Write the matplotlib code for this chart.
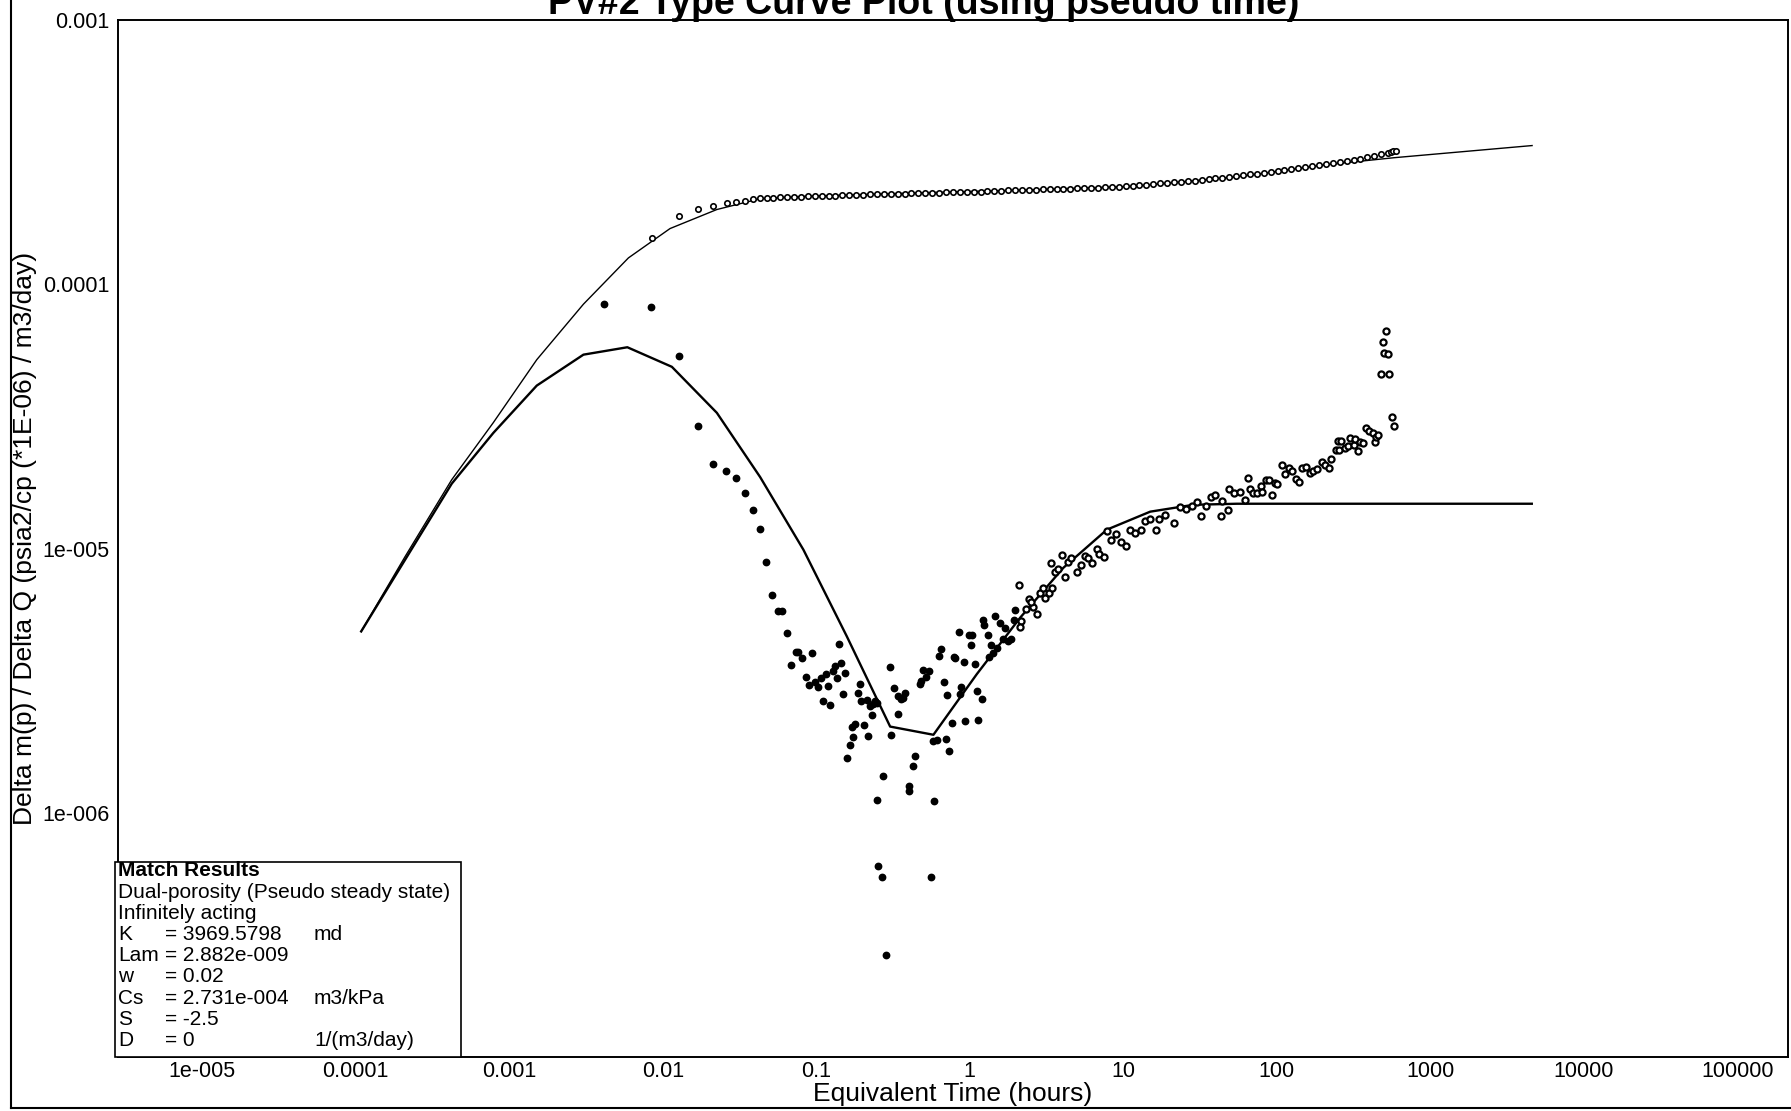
import matplotlib
matplotlib.use("Agg")
import matplotlib.pyplot as plt
from matplotlib.lines import Line2D
from matplotlib.patches import Rectangle
from matplotlib.ticker import NullLocator
import numpy as np

plt.rcParams["font.family"] = ["Liberation Sans", "DejaVu Sans"]

# values, stored as log10(hours) / log10(dm(p)/dQ)
upper_logt = [-3.965, -3.679, -3.375, -3.104, -2.821, -2.517, -2.224, -1.953, -1.648,
              -1.366, -1.084, -0.345, 0.360, 1.068, 1.774, 2.282, 2.763, 3.663]
upper_logy = [-5.313, -5.030, -4.739, -4.523, -4.285, -4.075, -3.900, -3.789, -3.717,
              -3.676, -3.667, -3.654, -3.643, -3.629, -3.591, -3.550, -3.521, -3.475]

lower_logt = [-3.965, -3.679, -3.375, -3.104, -2.821, -2.517, -2.231, -1.941, -1.648,
              -1.366, -1.084, -0.801, -0.519, -0.237, 0.045, 0.328, 0.610, 0.893,
              1.175, 1.457, 1.739, 3.661]
lower_logy = [-5.313, -5.042, -4.754, -4.562, -4.383, -4.266, -4.238, -4.312, -4.486,
              -4.729, -5.004, -5.332, -5.673, -5.704, -5.475, -5.261, -5.072, -4.928,
              -4.860, -4.834, -4.830, -4.830]

press_logt = [-2.072, -1.894, -1.768, -1.670, -1.583, -1.522, -1.464, -1.410, -1.366, -1.322,
              -1.280, -1.235, -1.190, -1.145, -1.100, -1.055, -1.010, -0.965, -0.920, -0.875,
              -0.830, -0.785, -0.740, -0.695, -0.650, -0.605, -0.560, -0.515, -0.470, -0.425,
              -0.380, -0.335, -0.290, -0.245, -0.200, -0.155, -0.110, -0.065, -0.020, 0.025,
              0.070, 0.115, 0.160, 0.205, 0.250, 0.295, 0.340, 0.385, 0.430, 0.475,
              0.520, 0.565, 0.610, 0.655, 0.700, 0.745, 0.790, 0.835, 0.880, 0.925,
              0.970, 1.015, 1.060, 1.105, 1.150, 1.195, 1.240, 1.285, 1.330, 1.375,
              1.420, 1.465, 1.510, 1.555, 1.600, 1.645, 1.690, 1.735, 1.780, 1.825,
              1.870, 1.915, 1.960, 2.005, 2.050, 2.095, 2.140, 2.185, 2.230, 2.275,
              2.320, 2.365, 2.410, 2.455, 2.500, 2.545, 2.590, 2.635, 2.680, 2.725,
              2.745, 2.760, 2.776]
press_logy = [-3.824, -3.740, -3.714, -3.702, -3.692, -3.688, -3.686, -3.679, -3.675, -3.673,
              -3.672, -3.671, -3.670, -3.669, -3.668, -3.667, -3.666, -3.665, -3.665, -3.664,
              -3.663, -3.662, -3.662, -3.661, -3.660, -3.660, -3.659, -3.658, -3.658, -3.657,
              -3.656, -3.655, -3.655, -3.654, -3.653, -3.652, -3.652, -3.651, -3.650, -3.650,
              -3.649, -3.648, -3.647, -3.646, -3.645, -3.645, -3.644, -3.643, -3.642, -3.641,
              -3.641, -3.640, -3.639, -3.638, -3.637, -3.636, -3.635, -3.634, -3.633, -3.632,
              -3.631, -3.629, -3.627, -3.625, -3.623, -3.621, -3.618, -3.616, -3.614, -3.612,
              -3.610, -3.608, -3.605, -3.602, -3.599, -3.596, -3.593, -3.590, -3.587, -3.584,
              -3.581, -3.578, -3.575, -3.572, -3.568, -3.564, -3.561, -3.557, -3.554, -3.550,
              -3.546, -3.542, -3.538, -3.534, -3.530, -3.525, -3.519, -3.514, -3.508, -3.502,
              -3.499, -3.497, -3.494]

deriv_logt = [-2.380, -2.074, -1.896, -1.770, -1.674, -1.590, -1.522, -1.467, -1.412, -1.369,
              -1.327, -1.288, -1.247, -1.225, -1.193, -1.162, -1.134, -1.117, -1.091, -1.066,
              -1.049, -1.027, -1.008, -0.990, -0.969, -0.956, -0.936, -0.921, -0.908, -0.893,
              -0.876, -0.865, -0.850, -0.838, -0.825, -0.812, -0.801, -0.780, -0.767, -0.758,
              -0.749, -0.728, -0.717, -0.706, -0.689, -0.671, -0.663, -0.650, -0.636, -0.632,
              -0.617, -0.606, -0.604, -0.595, -0.571, -0.563, -0.549, -0.521, -0.513, -0.491,
              -0.465, -0.450, -0.433, -0.420, -0.465, -0.354, -0.367, -0.393, -0.397, -0.231,
              -0.252, -0.241, -0.211, -0.154, -0.137, -0.319, -0.324, -0.306, -0.267, -0.285,
              -0.198, -0.187, -0.167, -0.146,
              -0.115, -0.029, 0.054, -0.065, -0.055, -0.096, -0.100, -0.035, 0.033, 0.046,
              0.078, -0.072, -0.003, 0.013, 0.008, 0.089, 0.093, 0.117, 0.139, 0.128,
              0.154, 0.176, 0.167, 0.199, 0.230, 0.215, 0.251, 0.267, 0.287, 0.297,
              0.321, 0.334, 0.328, 0.367, 0.388, 0.410, 0.438, 0.401, 0.458, 0.479,
              0.491, 0.519, 0.534, 0.530, 0.556, 0.577, 0.599, 0.621, 0.642, 0.658,
              0.701, 0.725, 0.751, 0.769, 0.795, 0.827, 0.844, 0.875, 0.893, 0.919,
              0.953, 0.984, 1.018, 1.044, 1.077, 1.114, 1.142, 1.175, 1.214, 1.235,
              1.272, 1.331, 1.370, 1.409, 1.446, 1.479,
              1.506, 1.540, 1.574, 1.597, 1.638, 1.643, 1.684, 1.689, 1.722, 1.757,
              1.792, 1.814, 1.825, 1.848, 1.871, 1.894, 1.906, 1.928, 1.951, 1.967,
              1.986, 2.004, 2.031, 2.054, 2.077, 2.100, 2.122, 2.145, 2.164, 2.191,
              2.214, 2.237, 2.260, 2.294, 2.317, 2.339, 2.356, 2.386, 2.408, 2.397,
              2.415, 2.442, 2.465, 2.477, 2.500, 2.511, 2.530, 2.545, 2.562, 2.580,
              2.603, 2.625, 2.639, 2.648, 2.660,
              2.676, 2.689, 2.699, 2.712, 2.724, 2.731, 2.751, 2.762]
deriv_logy = [-4.074, -4.085, -4.270, -4.537, -4.678, -4.707, -4.731, -4.790, -4.855, -4.924,
              -5.052, -5.174, -5.236, -5.236, -5.318, -5.439, -5.389, -5.391, -5.414, -5.487,
              -5.516, -5.395, -5.505, -5.523, -5.491, -5.578, -5.473, -5.519, -5.593, -5.464,
              -5.442, -5.491, -5.361, -5.431, -5.549, -5.470, -5.792, -5.743, -5.676, -5.714,
              -5.662, -5.546, -5.512, -5.575, -5.666, -5.574, -5.707, -5.597, -5.631, -5.589,
              -5.578, -5.584, -5.950, -6.200, -6.241, -5.859, -6.537, -5.446, -5.704, -5.526,
              -5.559, -5.569, -5.565, -5.546, -5.624, -5.783, -5.824, -5.897, -5.916, -5.953,
              -6.241, -5.728, -5.723, -5.719, -5.765, -5.502, -5.511, -5.458, -5.462, -5.487,
              -5.405, -5.380, -5.506, -5.553,
              -5.660, -5.651, -5.649, -5.551, -5.523, -5.414, -5.408, -5.429, -5.438, -5.540,
              -5.567, -5.316, -5.328, -5.328, -5.363, -5.269, -5.288, -5.328, -5.365, -5.410,
              -5.394, -5.377, -5.255, -5.282, -5.299, -5.341, -5.351, -5.341, -5.271, -5.231,
              -5.136, -5.275, -5.295, -5.229, -5.189, -5.222, -5.246, -5.202, -5.169, -5.149,
              -5.185, -5.166, -5.149, -5.056, -5.087, -5.076, -5.023, -5.109, -5.050, -5.034,
              -5.089, -5.063, -5.027, -5.036, -5.056, -5.003, -5.020, -5.030, -4.933, -4.967,
              -4.944, -4.973, -4.990, -4.930, -4.941, -4.930, -4.897, -4.888, -4.930, -4.888,
              -4.871, -4.904, -4.844, -4.851, -4.838, -4.824,
              -4.878, -4.840, -4.804, -4.796, -4.875, -4.821, -4.855, -4.774, -4.789, -4.787,
              -4.815, -4.732, -4.774, -4.789, -4.789, -4.764, -4.787, -4.739, -4.739, -4.796,
              -4.751, -4.754, -4.682, -4.716, -4.695, -4.707, -4.736, -4.749, -4.695, -4.691,
              -4.713, -4.707, -4.698, -4.673, -4.682, -4.695, -4.660, -4.625, -4.628, -4.594,
              -4.594, -4.619, -4.613, -4.581, -4.606, -4.585, -4.632, -4.598, -4.600, -4.543,
              -4.556, -4.562, -4.598, -4.577, -4.569,
              -4.341, -4.219, -4.259, -4.177, -4.262, -4.340, -4.501, -4.537]

x_ticks = [1e-5, 1e-4, 1e-3, 1e-2, 1e-1, 1, 10, 100, 1000, 10000, 100000]
x_tick_labels = ["1e-005", "0.0001", "0.001", "0.01", "0.1", "1", "10", "100",
                 "1000", "10000", "100000"]
y_ticks = [1e-6, 1e-5, 1e-4, 1e-3]
y_tick_labels = ["1e-006", "1e-005", "0.0001", "0.001"]

match_rows = [("K", "= 3969.5798", "md"),
              ("Lam", "= 2.882e-009", ""),
              ("w", "= 0.02", ""),
              ("Cs", "= 2.731e-004", "m3/kPa"),
              ("S", "= -2.5", ""),
              ("D", "= 0", "1/(m3/day)")]

fig = plt.figure(figsize=(17.91, 11.11), dpi=100)
ax = fig.add_axes([0.0659, 0.0486, 0.9325, 0.9334])
ax.set_xscale("log")
ax.set_yscale("log")
ax.set_xlim(10 ** -5.549, 10 ** 5.331)
ax.set_ylim(10 ** -6.923, 1e-3)

ax.plot(10 ** np.array(upper_logt), 10 ** np.array(upper_logy), color="black", lw=1.0)
ax.plot(10 ** np.array(lower_logt), 10 ** np.array(lower_logy), color="black", lw=1.7)
ax.plot(10 ** np.array(press_logt), 10 ** np.array(press_logy), linestyle="None",
        marker="o", markersize=3.9, markerfacecolor="white", markeredgecolor="black",
        markeredgewidth=1.2)

# early derivative points print as solid dots, later ones as open rings
dt = np.array(deriv_logt)
dy = np.array(deriv_logy)
early = dt < 0.3
ax.plot(10 ** dt[early], 10 ** dy[early], linestyle="None", marker="o", markersize=4.6,
        markerfacecolor="black", markeredgecolor="black", markeredgewidth=1.0)
ax.plot(10 ** dt[~early], 10 ** dy[~early], linestyle="None", marker="o", markersize=4.4,
        markerfacecolor="white", markeredgecolor="black", markeredgewidth=1.6)

ax.set_xticks(x_ticks)
ax.set_xticklabels(x_tick_labels)
ax.set_yticks(y_ticks)
ax.set_yticklabels(y_tick_labels)
ax.xaxis.set_minor_locator(NullLocator())
ax.yaxis.set_minor_locator(NullLocator())
ax.tick_params(axis="both", length=0, labelsize=15.5)
ax.tick_params(axis="x", pad=3)
ax.tick_params(axis="y", pad=6)
for s in ax.spines.values():
    s.set_linewidth(1.4)

ax.set_xlabel("Equivalent Time (hours)", fontsize=19, va="center")
ax.xaxis.set_label_coords(0.5, -0.0357)
ax.set_ylabel("Delta m(p) / Delta Q (psia2/cp (*1E-06) / m3/day)", fontsize=19, va="center")
ax.yaxis.set_label_coords(-0.0560, 0.5)

# title runs off the top edge in the scanned original
fig.text(0.516, 0.9877, "PV#2 Type Curve Plot (using pseudo time)", ha="center",
         va="baseline", fontsize=27, fontweight="bold")

# match results box (figure coords)
W, H = 1791.0, 1111.0
fig.add_artist(Rectangle((115.4 / W, 1 - 1056.5 / H), (460.5 - 115.4) / W, (1056.5 - 861.5) / H,
                         transform=fig.transFigure, facecolor="white", edgecolor="black",
                         lw=1.2, zorder=5))
lines_y = [871 + 21.2 * i for i in range(9)]
fig.text(118 / W, 1 - lines_y[0] / H, "Match Results", fontsize=15, fontweight="bold",
         va="center", zorder=6)
fig.text(118 / W, 1 - lines_y[1] / H, "Dual-porosity (Pseudo steady state)", fontsize=15,
         va="center", zorder=6)
fig.text(118 / W, 1 - lines_y[2] / H, "Infinitely acting", fontsize=15, va="center", zorder=6)
for i, (name, val, unit) in enumerate(match_rows):
    yy = 1 - lines_y[3 + i] / H
    fig.text(118 / W, yy, name, fontsize=15, va="center", zorder=6)
    fig.text(165 / W, yy, val, fontsize=15, va="center", zorder=6)
    if unit:
        fig.text(314 / W, yy, unit, fontsize=15, va="center", zorder=6)

# page border from the scan
fig.add_artist(Line2D([11 / W, 11 / W], [0.0027, 1.0], transform=fig.transFigure,
                      color="black", lw=1.5))
fig.add_artist(Line2D([11 / W, 1.0], [0.0027, 0.0027], transform=fig.transFigure,
                      color="black", lw=1.5))

fig.savefig("out.png", dpi=100)
